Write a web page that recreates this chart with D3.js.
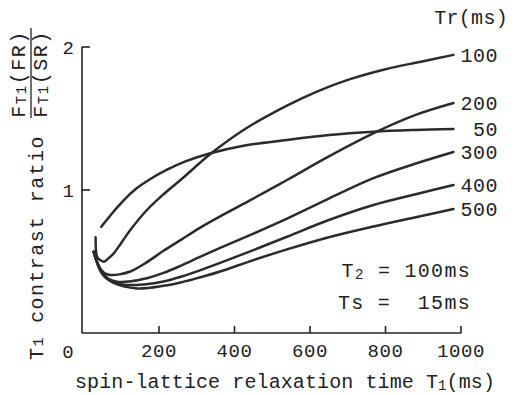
<!DOCTYPE html>
<html>
<head>
<meta charset="utf-8">
<script src="https://cdn.jsdelivr.net/npm/d3@7"></script>
<style>
  body { margin: 0; background: #fff; }
  svg text { font-family: "Liberation Mono", "DejaVu Sans Mono", monospace; fill: #222; }
</style>
</head>
<body>
<div id="chart"></div>
<script>
// T1 (ms) sample points and contrast ratio, one pair per Tr
const t1_50  = [47, 80, 107, 140, 173, 220, 270, 336, 424, 539, 650, 768, 880, 980];
const ratio_50  = [0.743, 0.85, 0.93, 1.01, 1.07, 1.14, 1.20, 1.257, 1.31, 1.35, 1.385, 1.408, 1.42, 1.427];

const t1_100 = [32, 36, 44, 54, 65, 80, 100, 124, 168, 212, 257, 340, 424, 539, 620, 706, 800, 900, 980];
const ratio_100 = [0.669, 0.534, 0.51, 0.499, 0.52, 0.557, 0.63, 0.72, 0.86, 0.97, 1.07, 1.26, 1.42, 1.59, 1.69, 1.775, 1.845, 1.90, 1.945];

const t1_200 = [27, 40, 55, 71, 95, 124, 165, 212, 260, 305, 362, 436, 539, 650, 777, 880, 980];
const ratio_200 = [0.568, 0.47, 0.42, 0.406, 0.41, 0.43, 0.49, 0.575, 0.655, 0.73, 0.815, 0.92, 1.07, 1.235, 1.408, 1.525, 1.608];

const t1_300 = [27, 45, 65, 89, 120, 168, 212, 257, 310, 362, 450, 539, 650, 768, 880, 980];
const ratio_300 = [0.568, 0.44, 0.38, 0.359, 0.36, 0.383, 0.42, 0.47, 0.534, 0.595, 0.695, 0.80, 0.94, 1.083, 1.185, 1.266];

const t1_400 = [27, 50, 75, 115, 160, 212, 260, 310, 362, 450, 539, 650, 768, 880, 980];
const ratio_400 = [0.568, 0.42, 0.36, 0.336, 0.34, 0.36, 0.395, 0.44, 0.49, 0.58, 0.673, 0.79, 0.895, 0.97, 1.035];

const t1_500 = [27, 50, 80, 142, 212, 260, 310, 362, 450, 539, 650, 768, 880, 980];
const ratio_500 = [0.568, 0.41, 0.35, 0.312, 0.33, 0.355, 0.39, 0.43, 0.51, 0.585, 0.67, 0.745, 0.81, 0.867];

const trLabels = ["50", "100", "200", "300", "400", "500"];
const xTicks = [200, 400, 600, 800, 1000];
const yTicks = [1, 2];

const series = [
    {tr: trLabels[0], t1: t1_50,  v: ratio_50},
    {tr: trLabels[1], t1: t1_100, v: ratio_100},
    {tr: trLabels[2], t1: t1_200, v: ratio_200},
    {tr: trLabels[3], t1: t1_300, v: ratio_300},
    {tr: trLabels[4], t1: t1_400, v: ratio_400},
    {tr: trLabels[5], t1: t1_500, v: ratio_500}
];

const width = 517, height = 395;
const svg = d3.select("#chart").append("svg")
    .attr("width", width)
    .attr("height", height);

const x = d3.scaleLinear().domain([0, 1000]).range([83.5, 461]);
const y = d3.scaleLinear().domain([0, 2]).range([333, 47]);

const ink = "#222";

// axes, ticks pointing inward
svg.append("line")
    .attr("x1", 82).attr("x2", x(1000))
    .attr("y1", y(0)).attr("y2", y(0))
    .attr("stroke", ink).attr("stroke-width", 1.6);
svg.append("line")
    .attr("x1", 82).attr("x2", 82)
    .attr("y1", y(0)).attr("y2", y(2))
    .attr("stroke", ink).attr("stroke-width", 1.6);

svg.selectAll(".xtick").data(xTicks).enter().append("line")
    .attr("class", "xtick")
    .attr("x1", d => x(d)).attr("x2", d => x(d))
    .attr("y1", y(0)).attr("y2", y(0) - 7)
    .attr("stroke", ink).attr("stroke-width", 1.6);
svg.selectAll(".ytick").data(yTicks).enter().append("line")
    .attr("class", "ytick")
    .attr("x1", 82).attr("x2", 90)
    .attr("y1", d => y(d)).attr("y2", d => y(d))
    .attr("stroke", ink).attr("stroke-width", 1.6);

svg.selectAll(".xlab").data(xTicks).enter().append("text")
    .attr("class", "xlab")
    .attr("x", d => x(d)).attr("y", 357)
    .attr("text-anchor", "middle")
    .style("font-size", "19px")
    .style("letter-spacing", "0.6px")
    .text(d => d);
svg.append("text")
    .attr("x", 68).attr("y", 358)
    .attr("text-anchor", "middle")
    .style("font-size", "19px")
    .text("0");
svg.selectAll(".ylab").data(yTicks).enter().append("text")
    .attr("class", "ylab")
    .attr("x", 74).attr("y", d => y(d) + 7)
    .attr("text-anchor", "end")
    .style("font-size", "19px")
    .text(d => d);

// curves
const line = d3.line()
    .x(d => x(d[0]))
    .y(d => y(d[1]))
    .curve(d3.curveCatmullRom.alpha(0.5));

svg.selectAll(".curve").data(series).enter().append("path")
    .attr("class", "curve")
    .attr("d", s => line(s.t1.map((t, i) => [t, s.v[i]])))
    .attr("fill", "none")
    .attr("stroke", "#2b2b2b")
    .attr("stroke-width", 2.5)
    .attr("stroke-linecap", "round");

// Tr labels at the end of each curve
svg.selectAll(".trlab").data(series).enter().append("text")
    .attr("class", "trlab")
    .attr("x", 498)
    .attr("y", s => y(s.v[s.v.length - 1]))
    .attr("dy", "0.35em")
    .attr("text-anchor", "end")
    .style("font-size", "20px")
    .style("letter-spacing", "0.5px")
    .text(s => s.tr);

svg.append("text")
    .attr("x", 508).attr("y", 24)
    .attr("text-anchor", "end")
    .style("font-size", "20px")
    .style("letter-spacing", "0.3px")
    .text("Tr(ms)");

// parameters
const p1 = svg.append("text")
    .attr("x", 471).attr("y", 277)
    .attr("text-anchor", "end")
    .style("font-size", "20px")
    .style("letter-spacing", "1.3px")
    .attr("xml:space", "preserve");
p1.append("tspan").text("T");
p1.append("tspan").style("font-size", "14px").attr("dy", 2).text("2");
p1.append("tspan").attr("dy", -2).text(" = 100ms");

svg.append("text")
    .attr("x", 471).attr("y", 309)
    .attr("text-anchor", "end")
    .style("font-size", "20px")
    .style("letter-spacing", "1.3px")
    .attr("xml:space", "preserve")
    .text("Ts =  15ms");

// x axis title
const xt = svg.append("text")
    .attr("x", 75).attr("y", 388)
    .style("font-size", "20px")
    .style("letter-spacing", "0.1px");
xt.append("tspan").text("spin-lattice relaxation time T");
xt.append("tspan").style("font-size", "14px").attr("dy", 2).text("1");
xt.append("tspan").attr("dy", -2).text("(ms)");

// y axis title, rotated, with the FT1(FR)/FT1(SR) fraction on top
const yt = svg.append("g");
const yMain = yt.append("text")
    .attr("transform", "translate(43,360) rotate(-90)")
    .style("font-size", "20px")
    .style("letter-spacing", "1.4px");
yMain.append("tspan").text("T");
yMain.append("tspan").style("font-size", "15px").text("1");
yMain.append("tspan").text(" contrast ratio");

const frac = [{part: "FR", bx: 25}, {part: "SR", bx: 47}];
frac.forEach(f => {
    const t = yt.append("text")
        .attr("transform", `translate(${f.bx},74) rotate(-90)`)
        .attr("text-anchor", "middle")
        .style("font-size", "20px")
        .style("letter-spacing", "1.5px");
    t.append("tspan").text("F");
    t.append("tspan").style("font-size", "14px").attr("dy", 1).text("T1");
    t.append("tspan").attr("dy", -1).text("(" + f.part + ")");
});
yt.append("line")
    .attr("x1", 31).attr("x2", 31)
    .attr("y1", 28).attr("y2", 118)
    .attr("stroke", ink).attr("stroke-width", 1.3);
</script>
</body>
</html>
